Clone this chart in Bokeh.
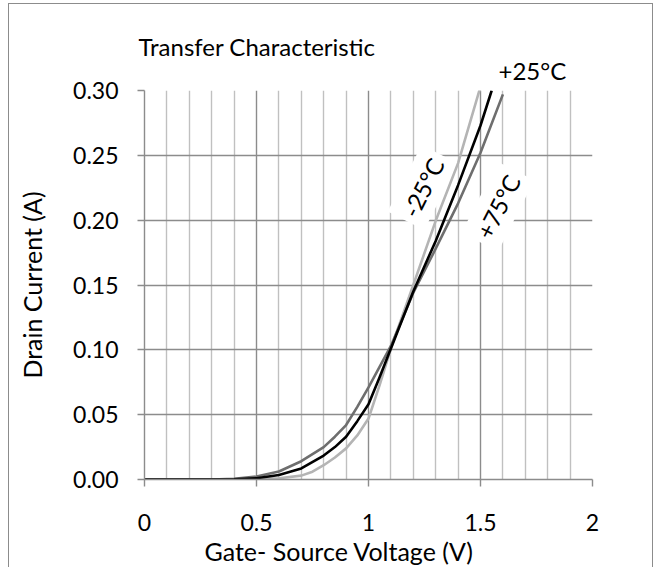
import math
from bokeh.plotting import figure
from bokeh.models import Title, FixedTicker, NumeralTickFormatter, Range1d
from bokeh.core.properties import value
from bokeh.embed import file_html
from bokeh.resources import INLINE

# ---- data ----
vgs_m25 = [0.0, 0.3, 0.5, 0.6, 0.7, 0.75, 0.8, 0.85, 0.9, 0.95, 1.0, 1.05, 1.1, 1.2, 1.3, 1.4, 1.5]
id_m25 = [0.0, 0.0, 0.0005, 0.001, 0.003, 0.006, 0.011, 0.017, 0.024, 0.034, 0.047, 0.073, 0.101, 0.150, 0.1995, 0.244, 0.303]

vgs_25 = [0.0, 0.3, 0.4, 0.5, 0.6, 0.7, 0.8, 0.85, 0.9, 0.95, 1.0, 1.05, 1.1, 1.15, 1.2, 1.3, 1.4, 1.5, 1.55]
id_25 = [0.0, 0.0, 0.0002, 0.001, 0.0035, 0.0085, 0.0185, 0.025, 0.033, 0.045, 0.058, 0.079, 0.101, 0.123, 0.145, 0.184, 0.227, 0.273, 0.300]

vgs_75 = [0.0, 0.3, 0.4, 0.5, 0.6, 0.7, 0.8, 0.85, 0.9, 0.95, 1.0, 1.05, 1.1, 1.2, 1.3, 1.4, 1.5, 1.6]
id_75 = [0.0, 0.0, 0.0005, 0.0023, 0.0062, 0.0141, 0.025, 0.033, 0.042, 0.056, 0.071, 0.087, 0.103, 0.144, 0.178, 0.213, 0.252, 0.297]

x_ticks = [0, 0.5, 1, 1.5, 2]
x_minor = [0.1, 0.2, 0.3, 0.4, 0.6, 0.7, 0.8, 0.9, 1.1, 1.2, 1.3, 1.4, 1.6, 1.7, 1.8, 1.9]
y_ticks = [0.0, 0.05, 0.10, 0.15, 0.20, 0.25, 0.30]

title_text = "Transfer Characteristic"
x_title = "Gate- Source Voltage (V)"
y_title = "Drain Current (A)"
series_labels = ["-25°C", "+25°C", "+75°C"]

FONT = "Lato"
FS = "23px"
FS_T = "24px"
FS_A = "25px"

p = figure(width=643, height=563, output_backend="svg", toolbar_location=None, title=None,
           x_range=Range1d(0, 2), y_range=Range1d(0, 0.3),
           min_border_left=135, min_border_right=60, min_border_top=86, min_border_bottom=88)
p.outline_line_color = None
p.background_fill_color = "white"
p.border_fill_color = "white"
p.styles = {"margin-left": "9px", "margin-top": "4px", "outline": "1px solid #8c8c8c"}

# axes
p.xaxis.ticker = FixedTicker(ticks=x_ticks, minor_ticks=x_minor)
p.yaxis.ticker = FixedTicker(ticks=y_ticks)
p.xaxis.formatter = NumeralTickFormatter(format="0.[0]")
p.yaxis.formatter = NumeralTickFormatter(format="0.00")
for ax in (p.xaxis[0], p.yaxis[0]):
    ax.axis_line_color = "#8c8c8c"
    ax.axis_line_width = 1.4
    ax.major_tick_line_color = "#8c8c8c"
    ax.major_tick_line_width = 1.4
    ax.major_tick_out = 7
    ax.major_tick_in = 0
    ax.minor_tick_line_color = None
    ax.major_label_text_font = FONT
    ax.major_label_text_font_size = FS
    ax.major_label_text_color = "black"
p.yaxis.major_label_standoff = 19
p.xaxis.major_label_standoff = 27
p.yaxis.axis_label = y_title
p.yaxis.axis_label_text_font = FONT
p.yaxis.axis_label_text_font_size = FS_A
p.yaxis.axis_label_text_font_style = "normal"
p.yaxis.axis_label_text_color = "black"
p.yaxis.axis_label_standoff = 23

# grids
p.xgrid.grid_line_color = "#8c8c8c"
p.xgrid.grid_line_width = 1.4
p.xgrid.minor_grid_line_color = "#c0c0c0"
p.xgrid.minor_grid_line_width = 1.4
p.ygrid.grid_line_color = "#8c8c8c"
p.ygrid.grid_line_width = 1.4

# rotated series labels with white boxes (drawn before the curves)
ang = math.radians(63)
p.text(x=[1.243, 1.578], y=[0.2252, 0.2105], text=[series_labels[0], series_labels[2]],
       angle=ang, text_align="center", text_baseline="middle",
       text_font=value(FONT), text_font_size=FS_T, text_color="black",
       background_fill_color="white", padding=6)

# curves
p.line(vgs_m25, id_m25, line_color="#b4b4b4", line_width=2.6, line_join="round")
p.line(vgs_75, id_75, line_color="#6e6e6e", line_width=2.6, line_join="round")
p.line(vgs_25, id_25, line_color="black", line_width=2.6, line_join="round")

# titles (closest to the frame first)
p.add_layout(Title(text=series_labels[1], align="left", offset=354, standoff=11,
                   text_font=FONT, text_font_size=FS_T, text_font_style="normal",
                   text_color="black"), "above")
p.add_layout(Title(text=title_text, align="left", offset=-6, standoff=-24,
                   text_font=FONT, text_font_size=FS_T, text_font_style="normal",
                   text_color="black"), "above")
p.add_layout(Title(text=x_title, align="left", offset=60, standoff=0,
                   text_font=FONT, text_font_size=FS_A, text_font_style="normal",
                   text_color="black"), "below")

open("out.html", "w").write(file_html(p, INLINE))
